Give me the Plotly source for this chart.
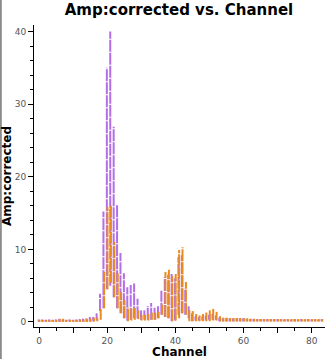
import plotly.graph_objects as go

channels = list(range(0, 84))

# purple series (per-channel min / max)
purple_hi = [0.35, 0.35, 0.3, 0.35, 0.3, 0.35, 0.4, 0.35, 0.3, 0.35,
             0.3, 0.35, 0.4, 0.45, 0.5, 0.7, 0.7, 1.2, 3.9, 15.2,
             35.0, 40.0, 26.9, 16.1, 9.5, 6.7, 4.8, 5.1, 5.3, 3.2,
             1.6, 1.6, 2.2, 2.6, 2.1, 2.3, 4.3, 6.2, 6.5, 6.6,
             6.0, 8.9, 9.2, 4.6, 2.2, 1.2, 0.8, 0.7, 0.8, 0.9,
             1.0, 1.1, 0.9, 0.6, 0.5, 0.5, 0.5, 0.5, 0.5, 0.5,
             0.5, 0.45, 0.4, 0.4, 0.4, 0.4, 0.4, 0.4, 0.4, 0.4,
             0.4, 0.4, 0.35, 0.4, 0.35, 0.4, 0.35, 0.4, 0.35, 0.4,
             0.35, 0.4, 0.35, 0.4]
purple_lo = [0.05, 0.05, 0.05, 0.05, 0.05, 0.05, 0.05, 0.05, 0.05, 0.05,
             0.05, 0.05, 0.05, 0.05, 0.05, 0.1, 0.1, 0.2, 1.5, 1.9,
             4.5, 5.0, 3.4, 1.9, 1.2, 0.5, 0.2, 0.3, 0.5, 0.5,
             0.3, 0.3, 0.3, 0.3, 0.3, 0.5, 1.0, 0.7, 0.5, 0.1,
             0.2, 1.0, 1.2, 1.0, 0.5, 0.1, 0.2, 0.2, 0.2, 0.2,
             0.3, 0.3, 0.3, 0.1, 0.1, 0.1, 0.1, 0.1, 0.1, 0.1,
             0.1, 0.1, 0.1, 0.1, 0.1, 0.1, 0.1, 0.1, 0.1, 0.1,
             0.1, 0.1, 0.1, 0.1, 0.1, 0.1, 0.1, 0.1, 0.1, 0.1,
             0.1, 0.1, 0.1, 0.1]

# orange series (per-channel min / max)
orange_hi = [0.3, 0.3, 0.3, 0.3, 0.3, 0.3, 0.45, 0.45, 0.3, 0.3,
             0.3, 0.3, 0.35, 0.35, 0.4, 0.5, 0.6, 0.6, 1.8, 6.9,
             15.8, 16.0, 11.0, 6.7, 4.1, 3.0, 2.0, 2.0, 2.0, 1.6,
             1.0, 1.0, 1.1, 1.3, 1.3, 1.4, 2.4, 6.9, 7.2, 6.3,
             6.6, 9.9, 10.3, 5.5, 1.6, 1.5, 1.1, 0.9, 1.1, 1.3,
             1.6, 1.8, 1.4, 0.8, 0.6, 0.6, 0.55, 0.55, 0.55, 0.55,
             0.55, 0.5, 0.45, 0.45, 0.4, 0.4, 0.4, 0.4, 0.4, 0.4,
             0.4, 0.4, 0.4, 0.4, 0.4, 0.4, 0.4, 0.4, 0.4, 0.4,
             0.4, 0.4, 0.4, 0.4]
orange_lo = [0.0, 0.0, 0.0, 0.0, 0.0, 0.0, 0.0, 0.0, 0.0, 0.0,
             0.0, 0.0, 0.0, 0.0, 0.0, 0.0, 0.05, 0.1, 0.3, 1.9,
             4.5, 5.4, 3.4, 1.9, 1.2, 0.5, 0.1, 0.2, 0.3, 0.4,
             0.2, 0.2, 0.2, 0.3, 0.3, 0.5, 1.0, 0.7, 0.5, 0.1,
             0.2, 0.5, 1.2, 1.0, 0.1, 0.1, 0.1, 0.1, 0.1, 0.1,
             0.1, 0.2, 0.2, 0.05, 0.05, 0.05, 0.05, 0.05, 0.05, 0.05,
             0.05, 0.05, 0.05, 0.05, 0.05, 0.05, 0.05, 0.05, 0.05, 0.05,
             0.05, 0.05, 0.05, 0.05, 0.05, 0.05, 0.05, 0.05, 0.05, 0.05,
             0.05, 0.05, 0.05, 0.05]

x_tickvals = [0, 10, 20, 30, 40, 50, 60, 70, 80]
x_ticktext = ["0", "", "20", "", "40", "", "60", "", "80"]

PURPLE = "#b46ee8"
ORANGE = "#ea8a22"


def segments(xs, lo, hi, off):
    sx, sy = [], []
    for c, a, b in zip(xs, lo, hi):
        sx += [c + off, c + off, None]
        sy += [a, b, None]
    return sx, sy


fig = go.Figure()
px_, py_ = segments(channels, purple_lo, purple_hi, -0.1)
fig.add_trace(go.Scatter(x=px_, y=py_, mode="lines",
                         line=dict(color=PURPLE, width=2, dash="12px,1px"),
                         hoverinfo="skip", showlegend=False))
ox_, oy_ = segments(channels, orange_lo, orange_hi, 0.1)
fig.add_trace(go.Scatter(x=ox_, y=oy_, mode="lines",
                         line=dict(color=ORANGE, width=2, dash="12px,1px"),
                         hoverinfo="skip", showlegend=False))

W, H = 327, 359
ml, mr, mt, mb = 34, 2, 25, 32
pw, ph = W - ml - mr, H - mt - mb

fig.update_layout(
    width=W, height=H,
    margin=dict(l=ml, r=mr, t=mt, b=mb, pad=0, autoexpand=False),
    paper_bgcolor="white", plot_bgcolor="white",
    font=dict(family="DejaVu Sans", size=9, color="#555555"),
    title=dict(text="<b>Amp:corrected vs. Channel</b>",
               font=dict(family="DejaVu Sans", size=15, color="black"),
               x=179 / W, xanchor="center", xref="container",
               y=1 - 10 / H, yanchor="middle", yref="container",
               automargin=False),
    xaxis=dict(range=[-1.47, 83.9], showgrid=False, zeroline=False,
               automargin=False,
               showline=True, linecolor="black", linewidth=1,
               ticks="outside", ticklen=5, tickcolor="black",
               tickvals=x_tickvals, ticktext=x_ticktext,
               tickfont=dict(size=9, color="#555555"),
               minor=dict(dtick=5, tick0=0, ticks="outside", ticklen=3,
                          tickcolor="black"),
               title=dict(text="<b>Channel</b>",
                          font=dict(family="DejaVu Sans", size=12, color="black"),
                          standoff=2)),
    yaxis=dict(range=[-0.69, 40.9], showgrid=False, zeroline=False,
               automargin=False,
               showline=True, linecolor="black", linewidth=1,
               ticks="outside", ticklen=5, tickcolor="black", dtick=10,
               tickfont=dict(size=9, color="#555555"),
               minor=dict(dtick=2, ticks="outside", ticklen=3,
                          tickcolor="black"),
               title=dict(text="<b>Amp:corrected</b>",
                          font=dict(family="DejaVu Sans", size=12, color="black"),
                          standoff=2)),
    shapes=[dict(type="line", xref="paper", yref="paper",
                 x0=(0.8 - ml) / pw, x1=(0.8 - ml) / pw,
                 y0=-mb / ph, y1=1 + mt / ph,
                 line=dict(color="#8a8a8a", width=2))],
)

fig.write_html("out.html",
               config={"displayModeBar": False},
               post_script="document.body.style.margin='0px';")
